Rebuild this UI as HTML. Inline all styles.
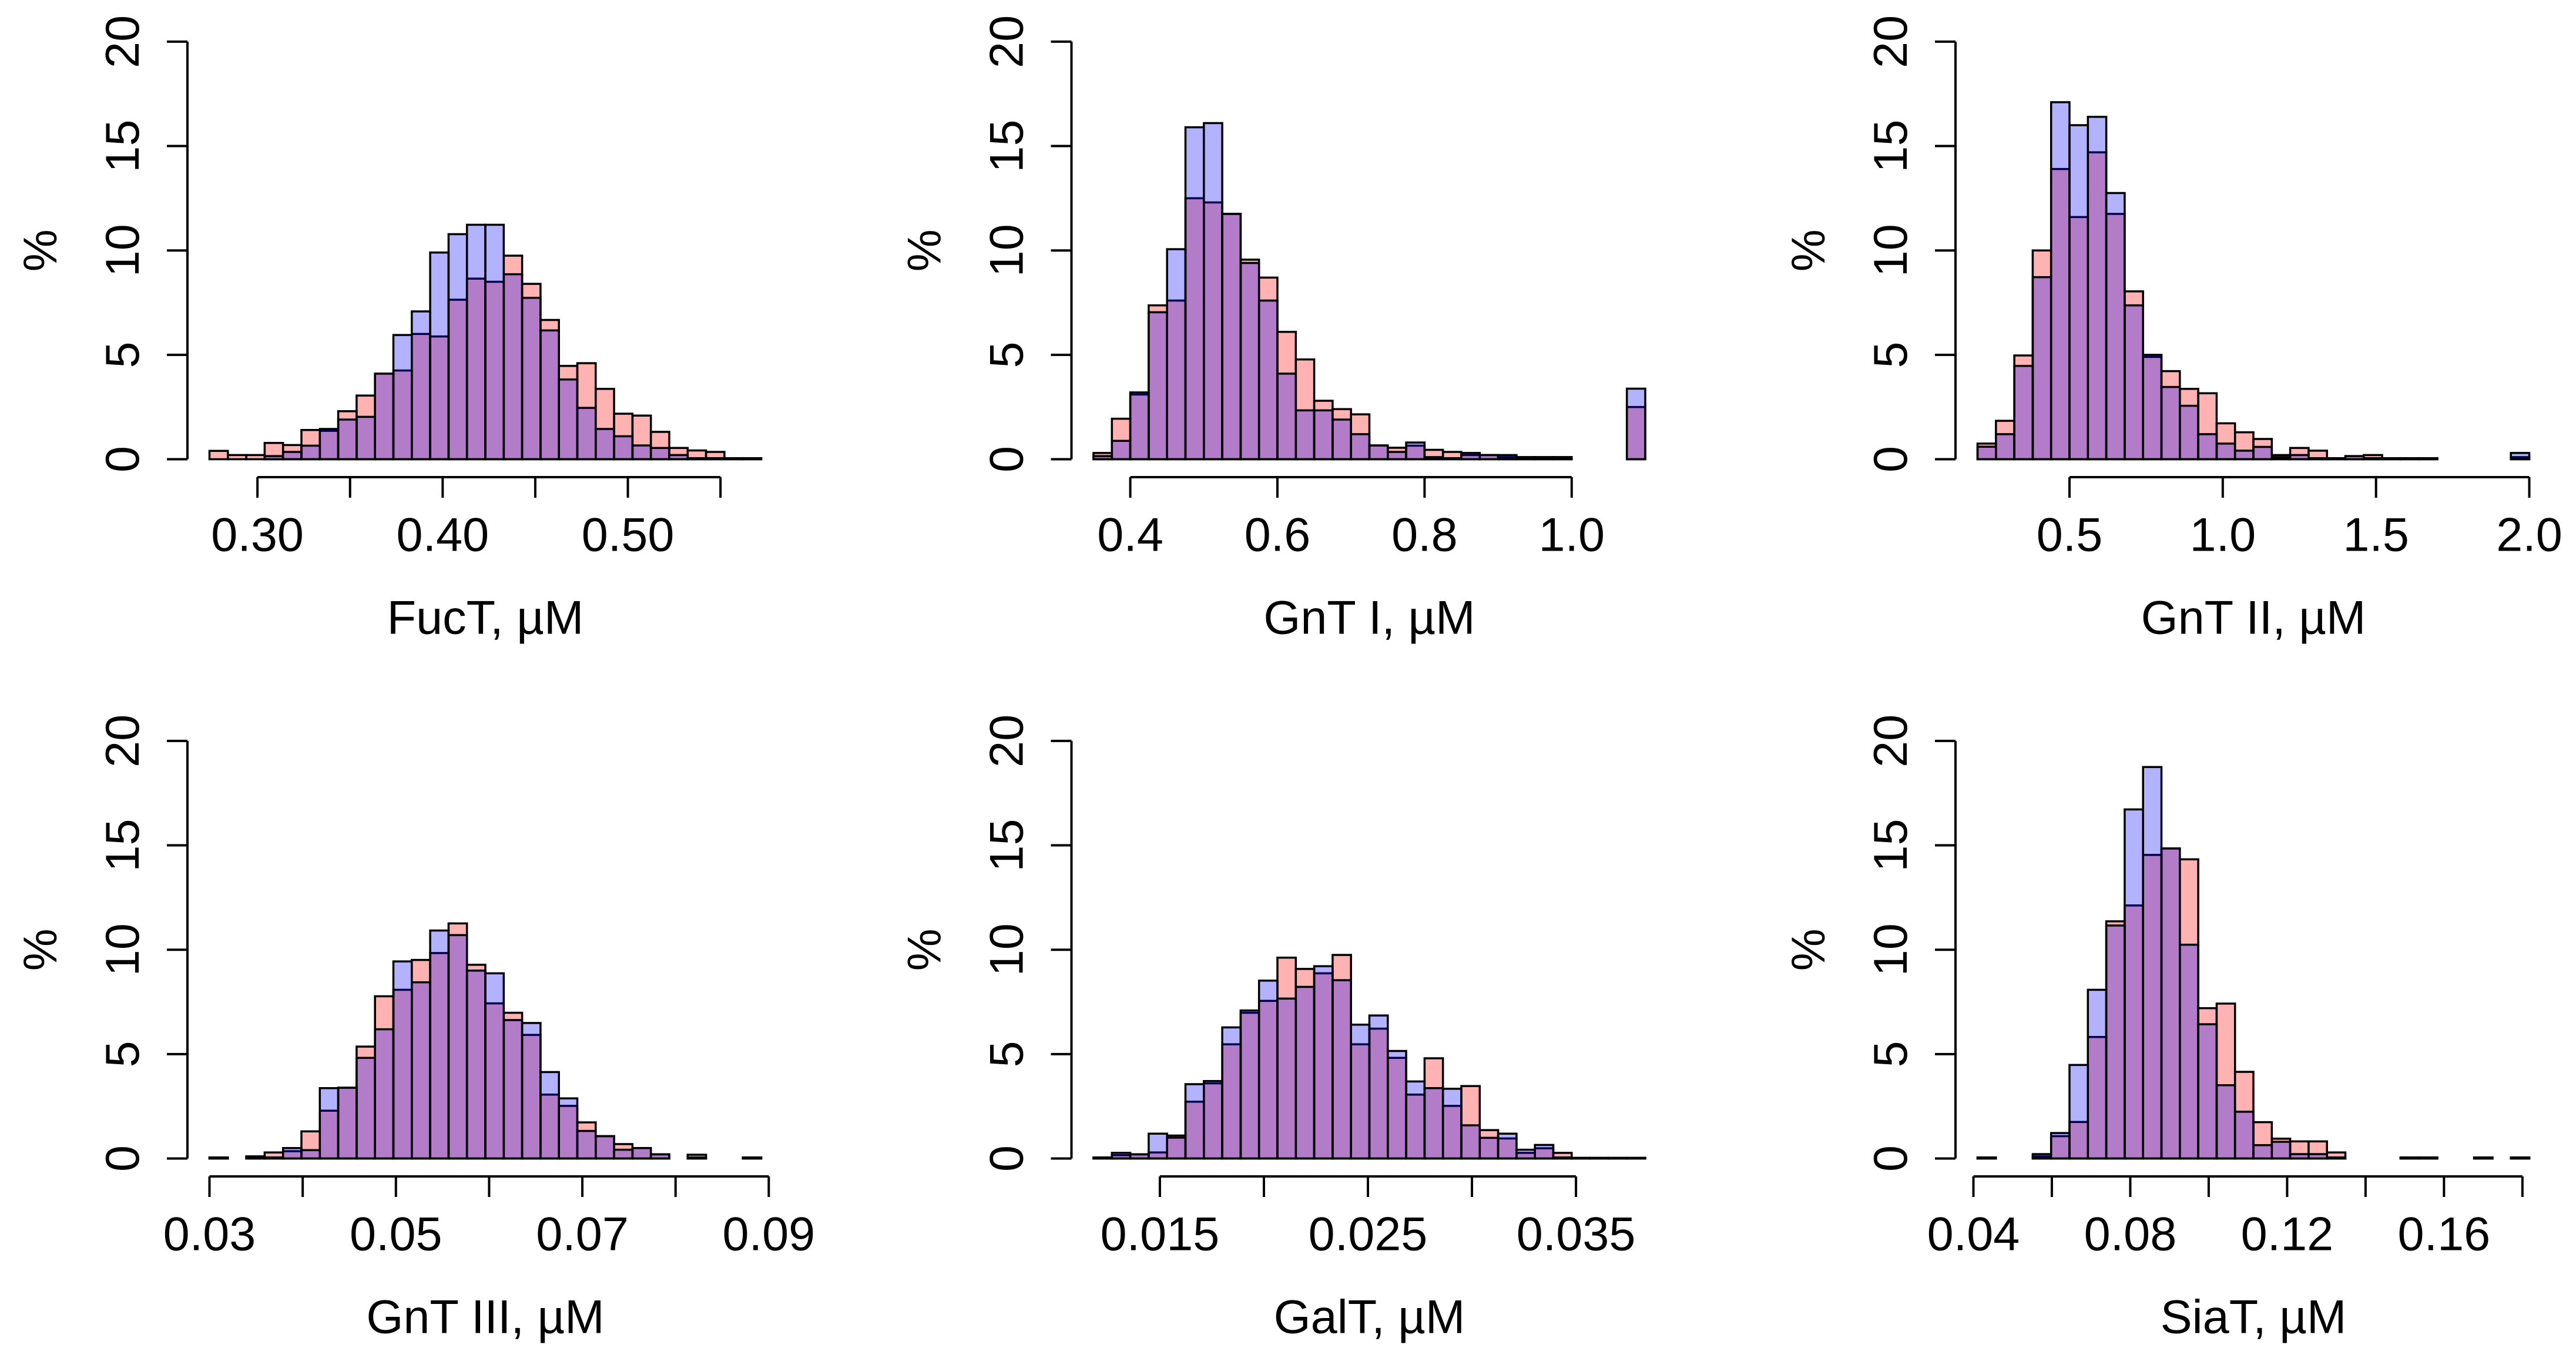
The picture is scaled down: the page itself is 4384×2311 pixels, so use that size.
<!DOCTYPE html>
<html><head><meta charset="utf-8"><style>
html,body{margin:0;padding:0;background:#fff}
svg{display:block}
text{font-family:"Liberation Sans",Arial,sans-serif;fill:#000}
</style></head><body>
<svg id="chart" width="4384" height="2311" viewBox="0 0 4384 2311" xmlns="http://www.w3.org/2000/svg"></svg>
<script>
// ---- data ----
const titles = ["FucT, µM","GnT I, µM","GnT II, µM","GnT III, µM","GalT, µM","SiaT, µM"];
const binStarts = [0.2741, 0.35, 0.2, 0.03, 0.01181, 0.04105];
const binWidths = [0.00993, 0.025, 0.06, 0.001973, 0.000884, 0.00469];
const red1 = [0.4,0.2,0.2,0.78,0.68,1.4,1.36,2.3,3.05,4.1,4.25,6.0,5.88,7.64,8.65,8.5,9.75,8.4,6.67,4.47,4.6,3.37,2.18,2.09,1.31,0.54,0.42,0.35,0.05,0.05];
const blue1 = [null,null,null,0.15,0.35,0.65,1.45,1.9,2.03,4.1,5.95,7.08,9.9,10.78,11.23,11.23,8.86,7.73,6.17,3.82,2.46,1.45,1.1,0.66,0.54,0.2,0.05,0.05,0.05,0.05];
const red2 = [0.3,1.94,3.1,7.37,7.6,12.5,12.3,11.75,9.56,8.7,6.1,4.78,2.8,2.4,2.15,0.66,0.55,0.65,0.45,0.35,0.2,0.2,0.1,0.1,0.1,0.1,null,null,null,2.5];
const blue2 = [0.15,0.88,3.2,7.04,10.06,15.9,16.1,11.75,9.4,7.6,4.1,2.34,2.34,1.9,1.2,0.66,0.35,0.8,0.1,0.05,0.3,0.2,0.2,0.1,0.1,0.1,null,null,null,3.38];
const red3 = [0.75,1.84,4.97,10.0,13.9,11.6,14.7,11.75,8.04,4.9,4.22,3.37,3.16,1.72,1.29,0.97,0.2,0.54,0.41,0.05,0.15,0.2,0.05,0.05,0.05,null,null,null,null,0.1];
const blue3 = [0.6,1.2,4.47,8.72,17.1,16.0,16.4,12.75,7.37,5.0,3.46,2.56,1.2,0.75,0.41,0.59,0.1,0.2,0.05,0.05,0.15,0.05,0.05,0.05,0.05,null,null,null,null,0.3];
const red4 = [0.05,null,0.1,0.29,0.35,1.3,2.29,3.39,5.36,7.77,8.08,9.51,9.84,11.26,9.28,7.43,6.98,5.92,3.06,2.52,1.73,1.07,0.69,0.5,0.2,null,0.18,null,null,0.05];
const blue4 = [0.05,null,0.1,0.05,0.5,0.4,3.37,3.39,4.82,6.19,9.44,8.44,10.92,10.7,9.0,8.87,6.63,6.49,4.14,2.88,1.32,1.07,0.42,0.5,0.2,null,0.05,null,null,0.05];
const red5 = [0.05,0.16,0.2,0.29,1.1,2.72,3.6,5.47,6.98,7.55,9.62,9.08,8.87,9.75,5.47,6.22,4.82,3.06,4.8,2.52,3.47,1.36,0.96,0.27,0.49,0.27,0.03,0.03,0.03,0.03];
const blue5 = [0.05,0.27,0.2,1.19,1.0,3.56,3.71,6.28,7.09,8.52,7.66,8.22,9.21,8.54,6.41,6.85,5.15,3.69,3.37,3.34,1.59,0.99,1.19,0.42,0.65,0.05,0.03,0.03,0.03,0.03];
const red6 = [0.05,null,null,0.1,1.07,1.75,5.82,11.36,12.12,14.54,14.85,14.33,7.2,7.42,4.15,1.74,0.95,0.82,0.82,0.29,null,null,null,0.05,0.05,null,null,0.05,null,0.05];
const blue6 = [0.05,null,null,0.21,1.22,4.48,8.08,11.16,16.72,18.75,14.85,10.24,6.43,3.51,2.24,0.64,0.8,0.21,0.21,0.05,null,null,null,0.05,0.05,null,null,0.05,null,0.05];
const xTicks = [[0.30,0.35,0.40,0.45,0.50,0.55],[0.4,0.6,0.8,1.0],[0.5,1.0,1.5,2.0],[0.03,0.04,0.05,0.06,0.07,0.08,0.09],[0.015,0.020,0.025,0.030,0.035],[0.04,0.06,0.08,0.10,0.12,0.14,0.16,0.18]];
const xTickLabels = [["0.30","","0.40","","0.50",""],["0.4","0.6","0.8","1.0"],["0.5","1.0","1.5","2.0"],["0.03","","0.05","","0.07","","0.09"],["0.015","","0.025","","0.035"],["0.04","","0.08","","0.12","","0.16",""]];
const yTicks = [0,5,10,15,20];

const reds = [red1,red2,red3,red4,red5,red6];
const blues = [blue1,blue2,blue3,blue4,blue5,blue6];

// ---- layout ----
const NS = "http://www.w3.org/2000/svg";
const svg = document.getElementById("chart");
const colAxisX = [319, 1823.5, 3328];
const rowZeroY = [781.5, 1971.5];
const pxPerPct = 35.53;
const barsOffset = 37.5, barsSpan = 939;
const FS = 81;

function el(tag, attrs, parent){
  const e = document.createElementNS(NS, tag);
  for (const k in attrs) e.setAttribute(k, attrs[k]);
  (parent||svg).appendChild(e);
  return e;
}

for (let p = 0; p < 6; p++){
  const col = p % 3, row = Math.floor(p / 3);
  const ax = colAxisX[col], zy = rowZeroY[row];
  const start = binStarts[p], w = binWidths[p], n = reds[p].length;
  const ppu = barsSpan / (n * w);
  const xs = v => ax + barsOffset + (v - start) * ppu;
  const ys = v => zy - v * pxPerPct;

  const g = el("g", {});
  
  

  const series = [[reds[p], "rgba(255,0,0,0.3)", "red"], [blues[p], "rgba(0,0,255,0.3)", "blue"]];
  series.forEach(([vals, fill, nm]) => {
    const sg = el("g", {}, g);
    
    
    vals.forEach((v, i) => {
      if (v === null) return;
      const x0 = xs(start + i * w), x1 = xs(start + (i + 1) * w);
      const r = el("rect", {x: x0, y: ys(v), width: x1 - x0, height: Math.max(0, zy - ys(v)),
        fill: fill, stroke: "#000", "stroke-width": 3.5}, sg);
      
      
    });
  });

  // y axis
  const ya = el("g", {}, g);
  
  
  el("line", {x1: ax, y1: ys(0), x2: ax, y2: ys(20), stroke: "#000", "stroke-width": 4}, ya);
  yTicks.forEach(t => {
    el("line", {x1: ax - 35, y1: ys(t), x2: ax, y2: ys(t), stroke: "#000", "stroke-width": 4}, ya);
    const tx = el("text", {transform: `translate(${ax - 83},${ys(t)}) rotate(-90)`, "text-anchor": "middle", "font-size": FS}, ya);
    tx.textContent = String(t);
    
    
  });
  const yl = el("text", {transform: `translate(${ax - 223},${ys(10)}) rotate(-90)`, "text-anchor": "middle", "font-size": FS}, g);
  yl.textContent = "%";
  
  

  // x axis
  const xa = el("g", {}, g);
  
  
  const ay = zy + 30.5;
  const tk = xTicks[p];
  el("line", {x1: xs(tk[0]), y1: ay, x2: xs(tk[tk.length - 1]), y2: ay, stroke: "#000", "stroke-width": 4}, xa);
  tk.forEach((t, i) => {
    el("line", {x1: xs(t), y1: ay, x2: xs(t), y2: ay + 35, stroke: "#000", "stroke-width": 4}, xa);
    const lab = xTickLabels[p][i];
    if (lab) {
      const tx = el("text", {x: xs(t), y: zy + 156, "text-anchor": "middle", "font-size": FS}, xa);
      tx.textContent = lab;
      
      
    }
  });
  const xt = el("text", {x: ax + 507, y: zy + 297, "text-anchor": "middle", "font-size": FS}, g);
  xt.textContent = titles[p];
  
  
}
</script>
</body></html>
